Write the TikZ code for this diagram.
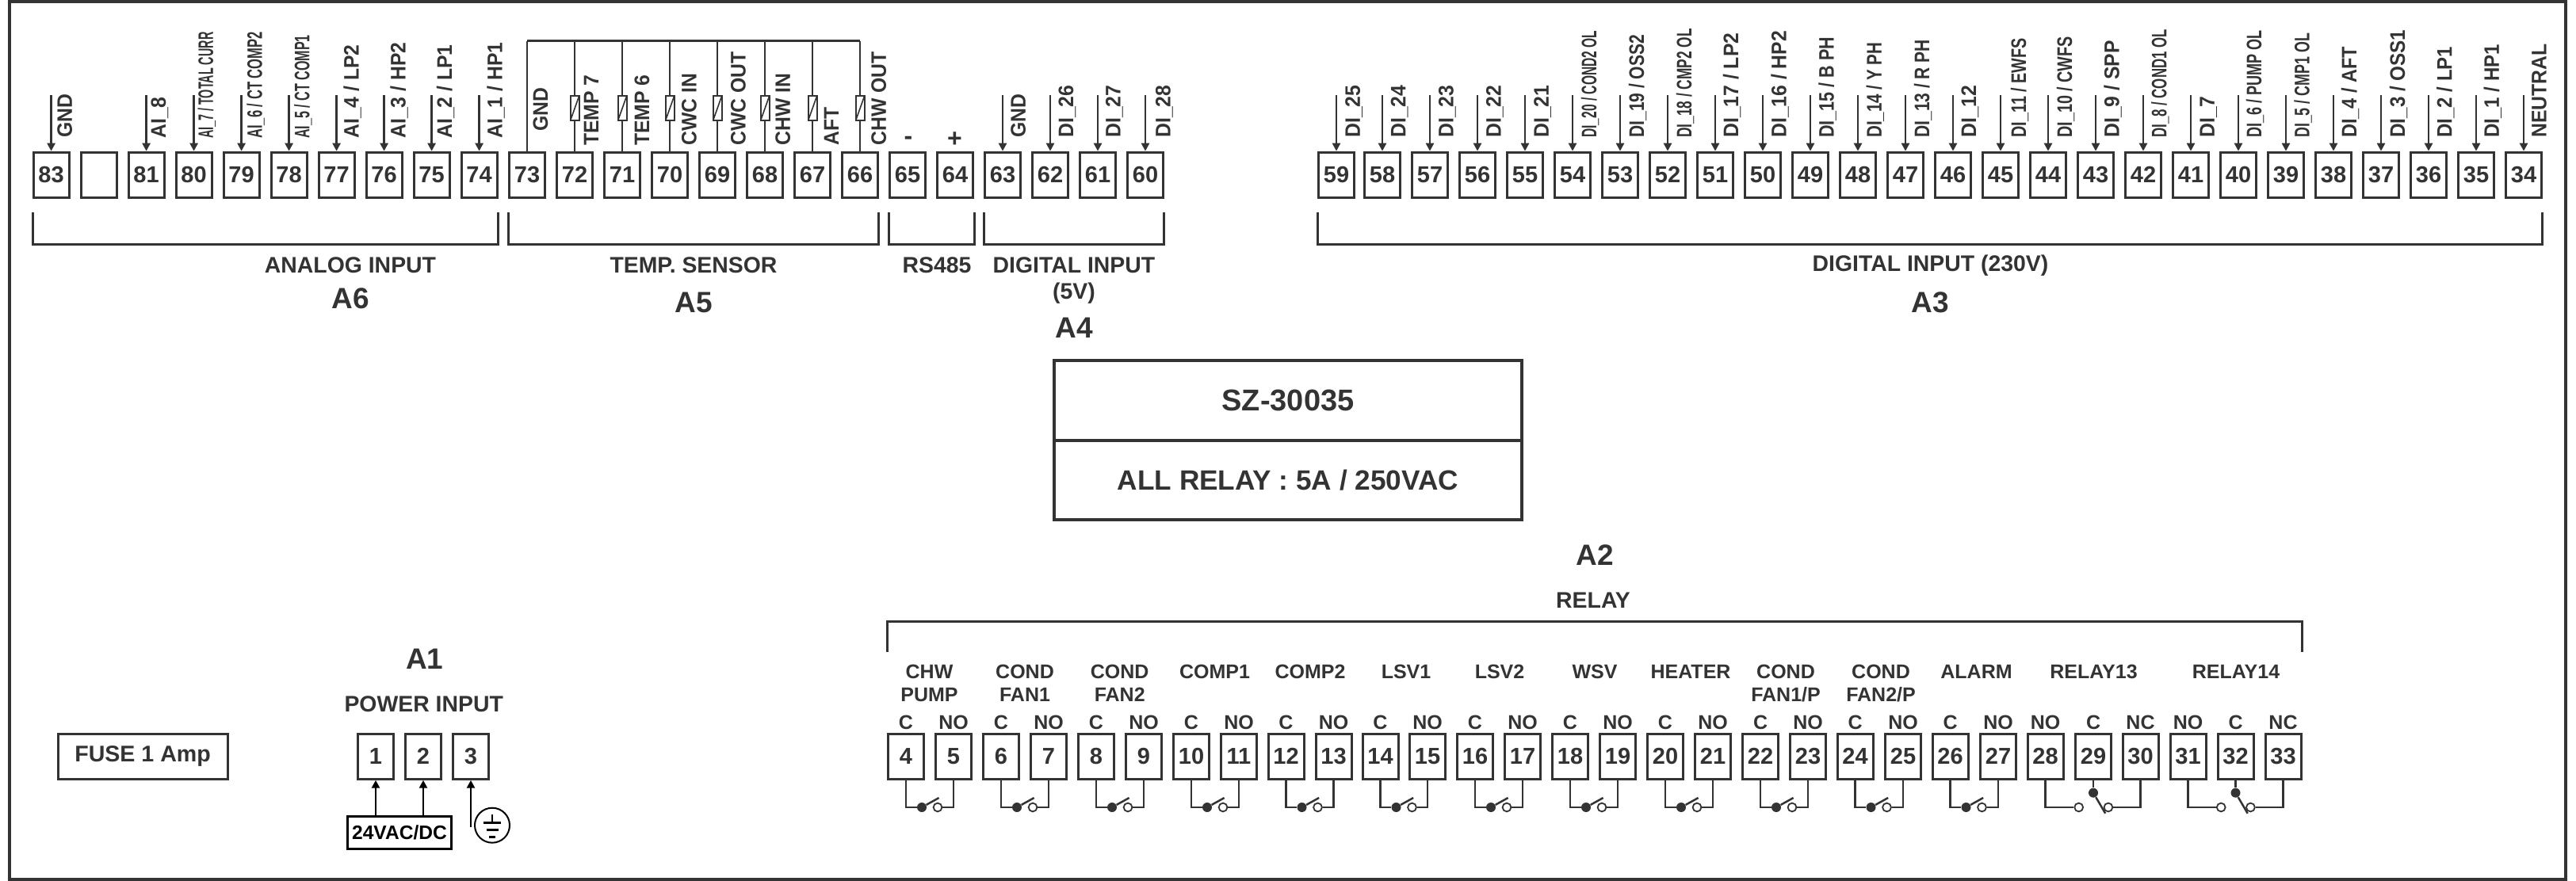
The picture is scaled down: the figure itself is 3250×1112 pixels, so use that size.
\documentclass[tikz,border=0pt]{standalone}
\usepackage{fontspec}
\setmainfont{Liberation Sans}
\usetikzlibrary{arrows.meta}
\definecolor{inkgray}{HTML}{333333}
\tikzset{
    term/.style={draw,line width=1.5pt,minimum width=22.5pt,minimum height=28.5pt,inner sep=0pt,font=\fontsize{14.5}{16}\selectfont\bfseries},
    sig/.style={line width=1.35pt,-{Triangle[length=5pt,width=5pt]}},
    lbl/.style={rotate=90,xscale=.93,anchor=base west,inner sep=0pt,font=\fontsize{13.3}{14}\selectfont\bfseries},
    sens/.style={draw,fill=white,line width=1pt,minimum width=5.5pt,minimum height=15.5pt,inner sep=0pt,
        path picture={\draw[line width=.8pt] (path picture bounding box.south west) -- (path picture bounding box.north east);}},
    wire/.style={line width=1.25pt},
    brk/.style={line width=1.5pt},
    head/.style={font=\fontsize{14.2}{17}\selectfont\bfseries,align=center,inner sep=0pt},
    zone/.style={font=\fontsize{18.5}{20}\selectfont\bfseries,inner sep=0pt},
    pin/.style={font=\fontsize{12.5}{14}\selectfont\bfseries,inner sep=0pt},
    rtitle/.style={font=\fontsize{12.5}{14.5}\selectfont\bfseries,align=center,inner sep=0pt},
    swon/.style={circle,fill,minimum size=6pt,inner sep=0pt},
    swoff/.style={circle,draw,fill=white,line width=.9pt,minimum size=5.4pt,inner sep=0pt},
    relayno/.pic={
        \node[swon] (-c) at (20,0) {};
        \node[swoff] (-o) at (40,0) {};
        \draw[wire] (-c) -- (41.6,-12);
    },
    relayco/.pic={
        \node[swon] (-c) at (0,-18.3) {};
        \node[swoff] (-no) at (-18.3,0) {};
        \node[swoff] (-nc) at (18.9,0) {};
        \draw[wire] (-c) -- (15.2,7.7);
    }
}

\begin{document}
\begin{tikzpicture}[x=.5pt,y=-.5pt,color=inkgray]
    \useasboundingbox (0,0) rectangle (3250,1112);

    % Cornice esterna
    \draw[line width=2pt] (12,2) rectangle (3237.3,1109.7);

    % --- A6 Analog input ---
    \node[term] (t83) at (64.6,220.7) {83};
    \node[term] (t82) at (124.6,220.7) {};
    \node[term] (t81) at (184.6,220.7) {81};
    \node[term] (t80) at (244.6,220.7) {80};
    \node[term] (t79) at (304.6,220.7) {79};
    \node[term] (t78) at (364.6,220.7) {78};
    \node[term] (t77) at (424.6,220.7) {77};
    \node[term] (t76) at (484.6,220.7) {76};
    \node[term] (t75) at (544.6,220.7) {75};
    \node[term] (t74) at (604.6,220.7) {74};

    \coordinate (a83) at (64.6,120); \draw[sig] (a83) -- (t83);
    \coordinate (a81) at (184.6,120); \draw[sig] (a81) -- (t81);
    \coordinate (a80) at (244.6,120); \draw[sig] (a80) -- (t80);
    \coordinate (a79) at (304.6,120); \draw[sig] (a79) -- (t79);
    \coordinate (a78) at (364.6,120); \draw[sig] (a78) -- (t78);
    \coordinate (a77) at (424.6,120); \draw[sig] (a77) -- (t77);
    \coordinate (a76) at (484.6,120); \draw[sig] (a76) -- (t76);
    \coordinate (a75) at (544.6,120); \draw[sig] (a75) -- (t75);
    \coordinate (a74) at (604.6,120); \draw[sig] (a74) -- (t74);

    \node[lbl] (l83) at (90.8,174) {GND};
    \node[lbl] (l81) at (209,175) {AI\_8};
    \node[lbl,xscale=.58] (l80) at (268.9,175) {AI\_7 / TOTAL CURR};
    \node[lbl,xscale=.67] (l79) at (330.6,175) {AI\_6 / CT COMP2};
    \node[lbl,xscale=.65] (l78) at (390.3,175) {AI\_5 / CT COMP1};
    \node[lbl] (l77) at (452.5,175) {AI\_4 / LP2};
    \node[lbl] (l76) at (511.7,175) {AI\_3 / HP2};
    \node[lbl] (l75) at (570,175) {AI\_2 / LP1};
    \node[lbl] (l74) at (633.7,175) {AI\_1 / HP1};

    \draw[brk] (41.6,268) -- (41.6,308.3) -- (628.3,308.3) -- (628.3,268);
    \node[head] (hA6) at (442,335) {ANALOG INPUT};
    \node[zone] (zA6) at (442,377) {A6};

    % --- A5 Sonde di temperatura ---
    \node[term] (t73) at (665,220.7) {73};
    \node[term] (t72) at (725,220.7) {72};
    \node[term] (t71) at (785,220.7) {71};
    \node[term] (t70) at (845,220.7) {70};
    \node[term] (t69) at (905,220.7) {69};
    \node[term] (t68) at (965,220.7) {68};
    \node[term] (t67) at (1025,220.7) {67};
    \node[term] (t66) at (1085,220.7) {66};

    \node[sens] (r72) at (725,137) {};
    \node[sens] (r71) at (785,137) {};
    \node[sens] (r70) at (845,137) {};
    \node[sens] (r69) at (905,137) {};
    \node[sens] (r68) at (965,137) {};
    \node[sens] (r67) at (1025,137) {};
    \node[sens] (r66) at (1085,137) {};

    % Linea comune
    \coordinate (w73) at (665,51.7);
    \coordinate (w66) at (1085,51.7);
    \draw[wire] (t73) -- (w73);
    \draw[brk] (w73) -- (w66);
    \draw[wire] (w66) -- (r66);
    \draw[wire] (r66) -- (t66);
    \draw[wire] (r72.north |- w73) -- (r72);
    \draw[wire] (r72) -- (t72);
    \draw[wire] (r71.north |- w73) -- (r71);
    \draw[wire] (r71) -- (t71);
    \draw[wire] (r70.north |- w73) -- (r70);
    \draw[wire] (r70) -- (t70);
    \draw[wire] (r69.north |- w73) -- (r69);
    \draw[wire] (r69) -- (t69);
    \draw[wire] (r68.north |- w73) -- (r68);
    \draw[wire] (r68) -- (t68);
    \draw[wire] (r67.north |- w73) -- (r67);
    \draw[wire] (r67) -- (t67);

    \node[lbl] (l73) at (691,166) {GND};
    \node[lbl] (l72) at (755,184) {TEMP 7};
    \node[lbl] (l71) at (819,184) {TEMP 6};
    \node[lbl] (l70) at (878.5,184) {CWC IN};
    \node[lbl] (l69) at (940.7,184) {CWC OUT};
    \node[lbl] (l68) at (996.8,184) {CHW IN};
    \node[lbl] (l67) at (1058,184) {AFT};
    \node[lbl] (l66) at (1117.8,184) {CHW OUT};

    \draw[brk] (641.3,268) -- (641.3,308.3) -- (1108,308.3) -- (1108,268);
    \node[head] (hA5) at (875,335) {TEMP. SENSOR};
    \node[zone] (zA5) at (875,382) {A5};

    % --- RS485 ---
    \node[term] (t65) at (1145,220.7) {65};
    \node[term] (t64) at (1205,220.7) {64};
    \node[font=\fontsize{16}{16}\selectfont\bfseries,inner sep=0pt] (l65) at (1146,177) {-};
    \node[font=\fontsize{16}{16}\selectfont\bfseries,inner sep=0pt] (l64) at (1204.5,175.7) {+};
    \draw[brk] (1121,268) -- (1121,308.3) -- (1229,308.3) -- (1229,268);
    \node[head] (hRS) at (1182,335) {RS485};

    % --- A4 Digital input 5V ---
    \node[term] (t63) at (1265,220.7) {63};
    \node[term] (t62) at (1325,220.7) {62};
    \node[term] (t61) at (1385,220.7) {61};
    \node[term] (t60) at (1445,220.7) {60};

    \coordinate (a63) at (1265,120); \draw[sig] (a63) -- (t63);
    \coordinate (a62) at (1325,120); \draw[sig] (a62) -- (t62);
    \coordinate (a61) at (1385,120); \draw[sig] (a61) -- (t61);
    \coordinate (a60) at (1445,120); \draw[sig] (a60) -- (t60);

    \node[lbl] (l63) at (1293.8,174) {GND};
    \node[lbl] (l62) at (1354,174) {DI\_26};
    \node[lbl] (l61) at (1413.7,174) {DI\_27};
    \node[lbl] (l60) at (1476.5,174) {DI\_28};

    \draw[brk] (1241,268) -- (1241,308.3) -- (1468.7,308.3) -- (1468.7,268);
    \node[head] (hA4) at (1355,335) {DIGITAL INPUT};
    \node[head] (hA4b) at (1355,370) {(5V)};
    \node[zone] (zA4) at (1355,414) {A4};

    % --- A3 Digital input 230V ---
    \node[term] (t59) at (1686,220.7) {59};
    \node[term] (t58) at (1744,220.7) {58};
    \node[term] (t57) at (1804,220.7) {57};
    \node[term] (t56) at (1864,220.7) {56};
    \node[term] (t55) at (1924,220.7) {55};
    \node[term] (t54) at (1984,220.7) {54};
    \node[term] (t53) at (2044,220.7) {53};
    \node[term] (t52) at (2104,220.7) {52};
    \node[term] (t51) at (2164,220.7) {51};
    \node[term] (t50) at (2224,220.7) {50};
    \node[term] (t49) at (2284,220.7) {49};
    \node[term] (t48) at (2344,220.7) {48};
    \node[term] (t47) at (2404,220.7) {47};
    \node[term] (t46) at (2464,220.7) {46};
    \node[term] (t45) at (2524,220.7) {45};
    \node[term] (t44) at (2584,220.7) {44};
    \node[term] (t43) at (2644,220.7) {43};
    \node[term] (t42) at (2704,220.7) {42};
    \node[term] (t41) at (2764,220.7) {41};
    \node[term] (t40) at (2824,220.7) {40};
    \node[term] (t39) at (2884,220.7) {39};
    \node[term] (t38) at (2944,220.7) {38};
    \node[term] (t37) at (3004,220.7) {37};
    \node[term] (t36) at (3064,220.7) {36};
    \node[term] (t35) at (3124,220.7) {35};
    \node[term] (t34) at (3184,220.7) {34};

    \coordinate (a59) at (1686,120); \draw[sig] (a59) -- (t59);
    \coordinate (a58) at (1744,120); \draw[sig] (a58) -- (t58);
    \coordinate (a57) at (1804,120); \draw[sig] (a57) -- (t57);
    \coordinate (a56) at (1864,120); \draw[sig] (a56) -- (t56);
    \coordinate (a55) at (1924,120); \draw[sig] (a55) -- (t55);
    \coordinate (a54) at (1984,120); \draw[sig] (a54) -- (t54);
    \coordinate (a53) at (2044,120); \draw[sig] (a53) -- (t53);
    \coordinate (a52) at (2104,120); \draw[sig] (a52) -- (t52);
    \coordinate (a51) at (2164,120); \draw[sig] (a51) -- (t51);
    \coordinate (a50) at (2224,120); \draw[sig] (a50) -- (t50);
    \coordinate (a49) at (2284,120); \draw[sig] (a49) -- (t49);
    \coordinate (a48) at (2344,120); \draw[sig] (a48) -- (t48);
    \coordinate (a47) at (2404,120); \draw[sig] (a47) -- (t47);
    \coordinate (a46) at (2464,120); \draw[sig] (a46) -- (t46);
    \coordinate (a45) at (2524,120); \draw[sig] (a45) -- (t45);
    \coordinate (a44) at (2584,120); \draw[sig] (a44) -- (t44);
    \coordinate (a43) at (2644,120); \draw[sig] (a43) -- (t43);
    \coordinate (a42) at (2704,120); \draw[sig] (a42) -- (t42);
    \coordinate (a41) at (2764,120); \draw[sig] (a41) -- (t41);
    \coordinate (a40) at (2824,120); \draw[sig] (a40) -- (t40);
    \coordinate (a39) at (2884,120); \draw[sig] (a39) -- (t39);
    \coordinate (a38) at (2944,120); \draw[sig] (a38) -- (t38);
    \coordinate (a37) at (3004,120); \draw[sig] (a37) -- (t37);
    \coordinate (a36) at (3064,120); \draw[sig] (a36) -- (t36);
    \coordinate (a35) at (3124,120); \draw[sig] (a35) -- (t35);
    \coordinate (a34) at (3184,120); \draw[sig] (a34) -- (t34);

    \node[lbl] (l59) at (1715.8,174) {DI\_25};
    \node[lbl] (l58) at (1773.4,174) {DI\_24};
    \node[lbl] (l57) at (1833.5,174) {DI\_23};
    \node[lbl] (l56) at (1893.6,174) {DI\_22};
    \node[lbl] (l55) at (1953.8,174) {DI\_21};
    \node[lbl,xscale=.63] (l54) at (2014,174) {DI\_20 / COND2 OL};
    \node[lbl,xscale=.85] (l53) at (2074,174) {DI\_19 / OSS2};
    \node[lbl,xscale=.70] (l52) at (2134,174) {DI\_18 / CMP2 OL};
    \node[lbl] (l51) at (2193,174) {DI\_17 / LP2};
    \node[lbl] (l50) at (2253.5,174) {DI\_16 / HP2};
    \node[lbl,xscale=.87] (l49) at (2313.6,174) {DI\_15 / B PH};
    \node[lbl,xscale=.83] (l48) at (2373.8,174) {DI\_14 / Y PH};
    \node[lbl,xscale=.85] (l47) at (2434,174) {DI\_13 / R PH};
    \node[lbl] (l46) at (2493.2,174) {DI\_12};
    \node[lbl,xscale=.8] (l45) at (2556.2,174) {DI\_11 / EWFS};
    \node[lbl,xscale=.8] (l44) at (2614,174) {DI\_10 / CWFS};
    \node[lbl] (l43) at (2673.5,174) {DI\_9 / SPP};
    \node[lbl,xscale=.68] (l42) at (2733.4,174) {DI\_8 / COND1 OL};
    \node[lbl] (l41) at (2793.8,174) {DI\_7};
    \node[lbl,xscale=.73] (l40) at (2853.2,174) {DI\_6 / PUMP OL};
    \node[lbl,xscale=.72] (l39) at (2913.6,174) {DI\_5 / CMP1 OL};
    \node[lbl,xscale=.95] (l38) at (2973,174) {DI\_4 / AFT};
    \node[lbl,xscale=.98] (l37) at (3034,174) {DI\_3 / OSS1};
    \node[lbl,xscale=.97] (l36) at (3093.4,174) {DI\_2 / LP1};
    \node[lbl,xscale=.97] (l35) at (3152.8,174) {DI\_1 / HP1};
    \node[lbl] (l34) at (3212.7,174) {NEUTRAL};

    \draw[brk] (1662.5,268) -- (1662.5,308.3) -- (3207.7,308.3) -- (3207.7,268);
    \node[head] (hA3) at (2435.5,335) {DIGITAL INPUT (230V)};
    \node[zone] (zA3) at (2435,382) {A3};

    % --- Targhetta centrale ---
    \node[draw,line width=2pt,minimum width=295pt,minimum height=50.5pt,inner sep=0pt,
        font=\fontsize{19}{22}\selectfont\bfseries] (model) at (1625,505.5) {SZ-30035};
    \node[draw,line width=2pt,minimum width=295pt,minimum height=50pt,inner sep=0pt,
        font=\fontsize{17.6}{20}\selectfont\bfseries] (rating) at (1625,606) {ALL RELAY : 5A / 250VAC};

    % --- A1 Alimentazione ---
    \node[draw,line width=1.5pt,minimum width=107pt,minimum height=28.5pt,inner sep=0pt,
        font=\fontsize{14.3}{16}\selectfont\bfseries] (fuse) at (180.1,954.7) {FUSE 1 Amp};
    \node[zone] (zA1) at (535.7,832) {A1};
    \node[head] (hA1) at (534.7,889) {POWER INPUT};
    \node[term] (t1) at (474,954.7) {1};
    \node[term] (t2) at (534,954.7) {2};
    \node[term] (t3) at (594,954.7) {3};
    \node[draw=black,text=black,line width=1.5pt,minimum width=65.8pt,minimum height=20.5pt,inner sep=0pt,
        font=\fontsize{12.3}{14}\selectfont\bfseries] (psu) at (504,1051) {24VAC/DC};
    \draw[sig,black] (psu.north -| t1) -- (t1);
    \draw[sig,black] (psu.north -| t2) -- (t2);
    \coordinate (a3) at (594,1043.7);
    \draw[sig,black] (a3) -- (t3);
    % Simbolo di terra
    \node[circle,draw=black,line width=1pt,minimum size=22pt,inner sep=0pt] (earth) at (621,1041.7) {};
    \draw[wire,black] (621,1028.3) -- (621,1038.3);
    \draw[wire,black] (610.3,1038.3) -- (631.7,1038.3);
    \draw[wire,black] (613.5,1047.7) -- (628.5,1047.7);
    \draw[wire,black] (617.2,1056.7) -- (624.8,1056.7);

    % --- A2 Relay ---
    \node[zone] (zA2) at (2012,701) {A2};
    \node[head] (hA2) at (2010,757.5) {RELAY};
    \draw[brk] (1119,823) -- (1119,784) -- (2904.5,784) -- (2904.5,823);

    % CHW PUMP
    \node[rtitle] (n1) at (1172.5,862.5) {CHW\\PUMP};
    \node[pin] (p4) at (1143,911.7) {C};
    \node[pin] (p5) at (1203,911.7) {NO};
    \node[term] (t4) at (1143,954.7) {4};
    \node[term] (t5) at (1203,954.7) {5};
    \pic (s4) at (1143,1019) {relayno};
    \draw[wire] (t4) |- (s4-c);
    \draw[wire] (t5) |- (s4-o);

    % COND FAN1
    \node[rtitle] (n2) at (1293,862.5) {COND\\FAN1};
    \node[pin] (p6) at (1263,911.7) {C};
    \node[pin] (p7) at (1323,911.7) {NO};
    \node[term] (t6) at (1263,954.7) {6};
    \node[term] (t7) at (1323,954.7) {7};
    \pic (s6) at (1263,1019) {relayno};
    \draw[wire] (t6) |- (s6-c);
    \draw[wire] (t7) |- (s6-o);

    % COND FAN2
    \node[rtitle] (n3) at (1412.7,862.5) {COND\\FAN2};
    \node[pin] (p8) at (1383,911.7) {C};
    \node[pin] (p9) at (1443,911.7) {NO};
    \node[term] (t8) at (1383,954.7) {8};
    \node[term] (t9) at (1443,954.7) {9};
    \pic (s8) at (1383,1019) {relayno};
    \draw[wire] (t8) |- (s8-c);
    \draw[wire] (t9) |- (s8-o);

    % COMP1
    \node[rtitle] (n4) at (1532.5,848) {COMP1};
    \node[pin] (p10) at (1503,911.7) {C};
    \node[pin] (p11) at (1563,911.7) {NO};
    \node[term] (t10) at (1503,954.7) {10};
    \node[term] (t11) at (1563,954.7) {11};
    \pic (s10) at (1503,1019) {relayno};
    \draw[wire] (t10) |- (s10-c);
    \draw[wire] (t11) |- (s10-o);

    % COMP2
    \node[rtitle] (n5) at (1653,848) {COMP2};
    \node[pin] (p12) at (1622.5,911.7) {C};
    \node[pin] (p13) at (1682.5,911.7) {NO};
    \node[term] (t12) at (1622.5,954.7) {12};
    \node[term] (t13) at (1682.5,954.7) {13};
    \pic (s12) at (1622.5,1019) {relayno};
    \draw[wire] (t12) |- (s12-c);
    \draw[wire] (t13) |- (s12-o);

    % LSV1
    \node[rtitle] (n6) at (1774,848) {LSV1};
    \node[pin] (p14) at (1741.5,911.7) {C};
    \node[pin] (p15) at (1801,911.7) {NO};
    \node[term] (t14) at (1741.5,954.7) {14};
    \node[term] (t15) at (1801,954.7) {15};
    \pic (s14) at (1741.5,1019) {relayno};
    \draw[wire] (t14) |- (s14-c);
    \draw[wire] (t15) |- (s14-o);

    % LSV2
    \node[rtitle] (n7) at (1892,848) {LSV2};
    \node[pin] (p16) at (1861,911.7) {C};
    \node[pin] (p17) at (1921,911.7) {NO};
    \node[term] (t16) at (1861,954.7) {16};
    \node[term] (t17) at (1921,954.7) {17};
    \pic (s16) at (1861,1019) {relayno};
    \draw[wire] (t16) |- (s16-c);
    \draw[wire] (t17) |- (s16-o);

    % WSV
    \node[rtitle] (n8) at (2012,848) {WSV};
    \node[pin] (p18) at (1981,911.7) {C};
    \node[pin] (p19) at (2041,911.7) {NO};
    \node[term] (t18) at (1981,954.7) {18};
    \node[term] (t19) at (2041,954.7) {19};
    \pic (s18) at (1981,1019) {relayno};
    \draw[wire] (t18) |- (s18-c);
    \draw[wire] (t19) |- (s18-o);

    % HEATER
    \node[rtitle] (n9) at (2133,848) {HEATER};
    \node[pin] (p20) at (2101,911.7) {C};
    \node[pin] (p21) at (2161,911.7) {NO};
    \node[term] (t20) at (2101,954.7) {20};
    \node[term] (t21) at (2161,954.7) {21};
    \pic (s20) at (2101,1019) {relayno};
    \draw[wire] (t20) |- (s20-c);
    \draw[wire] (t21) |- (s20-o);

    % COND FAN1/P
    \node[rtitle] (n10) at (2253,862.5) {COND\\FAN1/P};
    \node[pin] (p22) at (2221,911.7) {C};
    \node[pin] (p23) at (2281,911.7) {NO};
    \node[term] (t22) at (2221,954.7) {22};
    \node[term] (t23) at (2281,954.7) {23};
    \pic (s22) at (2221,1019) {relayno};
    \draw[wire] (t22) |- (s22-c);
    \draw[wire] (t23) |- (s22-o);

    % COND FAN2/P
    \node[rtitle] (n11) at (2373,862.5) {COND\\FAN2/P};
    \node[pin] (p24) at (2340.5,911.7) {C};
    \node[pin] (p25) at (2401,911.7) {NO};
    \node[term] (t24) at (2340.5,954.7) {24};
    \node[term] (t25) at (2401,954.7) {25};
    \pic (s24) at (2340.5,1019) {relayno};
    \draw[wire] (t24) |- (s24-c);
    \draw[wire] (t25) |- (s24-o);

    % ALARM
    \node[rtitle] (n12) at (2493.5,848) {ALARM};
    \node[pin] (p26) at (2460.5,911.7) {C};
    \node[pin] (p27) at (2521,911.7) {NO};
    \node[term] (t26) at (2460.5,954.7) {26};
    \node[term] (t27) at (2521,954.7) {27};
    \pic (s26) at (2460.5,1019) {relayno};
    \draw[wire] (t26) |- (s26-c);
    \draw[wire] (t27) |- (s26-o);

    % RELAY13
    \node[rtitle] (n13) at (2641.5,848) {RELAY13};
    \node[pin] (p28) at (2580.5,911.7) {NO};
    \node[pin] (p29) at (2641,911.7) {C};
    \node[pin] (p30) at (2700.5,911.7) {NC};
    \node[term] (t28) at (2580.5,954.7) {28};
    \node[term] (t29) at (2641,954.7) {29};
    \node[term] (t30) at (2700.5,954.7) {30};
    \pic (s29) at (2641,1019) {relayco};
    \draw[wire] (t28) |- (s29-no);
    \draw[wire] (t29) -- (s29-c);
    \draw[wire] (t30) |- (s29-nc);

    % RELAY14
    \node[rtitle] (n14) at (2821,848) {RELAY14};
    \node[pin] (p31) at (2760.5,911.7) {NO};
    \node[pin] (p32) at (2820.5,911.7) {C};
    \node[pin] (p33) at (2880.5,911.7) {NC};
    \node[term] (t31) at (2760.5,954.7) {31};
    \node[term] (t32) at (2820.5,954.7) {32};
    \node[term] (t33) at (2880.5,954.7) {33};
    \pic (s32) at (2820.5,1019) {relayco};
    \draw[wire] (t31) |- (s32-no);
    \draw[wire] (t32) -- (s32-c);
    \draw[wire] (t33) |- (s32-nc);
\end{tikzpicture}
\end{document}
